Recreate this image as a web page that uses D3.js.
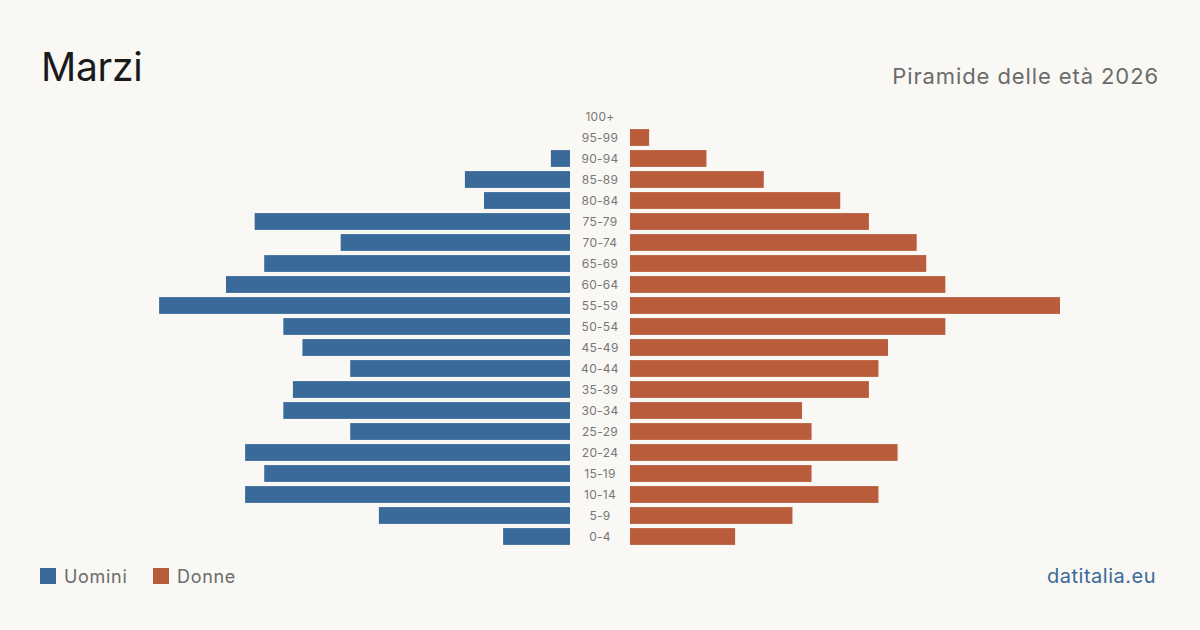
<!DOCTYPE html>
<html><head><meta charset="utf-8">
<script src="https://cdn.jsdelivr.net/npm/d3@7"></script>
<style>
html,body{margin:0;padding:0;background:#f9f8f4;}
svg{display:block;font-family:Inter,"Noto Sans",sans-serif;}
</style></head>
<body><svg id="c" width="1200" height="630"></svg>
<script>
const ageGroups = ["100+","95-99","90-94","85-89","80-84","75-79","70-74","65-69","60-64","55-59","50-54","45-49","40-44","35-39","30-34","25-29","20-24","15-19","10-14","5-9","0-4"];
const men   = [0,0,2,11,9,33,24,32,36,43,30,28,23,29,30,23,34,32,34,20,7];
const women = [0,2,8,14,22,25,30,31,33,45,33,27,26,25,18,19,28,19,26,17,11];
const seriesNames = ["Uomini","Donne"];
const colors = ["#3a6a9a","#b85c3c"];

const svg = d3.select("#c");
svg.append("rect").attr("width",1200).attr("height",630).attr("fill","#f9f8f4");

const maxV = d3.max([...men,...women]);
const xL = d3.scaleLinear().domain([0,maxV]).range([570,140]);
const xR = d3.scaleLinear().domain([0,maxV]).range([630,1060]);
const y = d3.scaleBand().domain(ageGroups).range([106,547]).paddingInner(0.2).paddingOuter(0.1);

svg.append("g").selectAll("rect").data(ageGroups).join("rect")
  .attr("x",(d,i)=>xL(men[i])).attr("width",(d,i)=>xL(0)-xL(men[i]))
  .attr("y",d=>y(d)).attr("height",y.bandwidth()).attr("fill",colors[0]);
svg.append("g").selectAll("rect").data(ageGroups).join("rect")
  .attr("x",xR(0)).attr("width",(d,i)=>xR(women[i])-xR(0))
  .attr("y",d=>y(d)).attr("height",y.bandwidth()).attr("fill",colors[1]);

const yAxis = d3.axisLeft(y).tickSize(0).tickPadding(0);
const ag = svg.append("g").attr("transform","translate(600,1)").call(yAxis);
ag.select(".domain").remove();
ag.selectAll("text").attr("text-anchor","middle").attr("x",0)
  .attr("font-family","Inter,'Noto Sans',sans-serif").attr("font-size",12).attr("fill","#777")
  .attr("letter-spacing",0.3);

svg.append("text").attr("x",41).attr("y",81).text("Marzi")
  .attr("font-size",39).attr("fill","#1a1a1a").attr("letter-spacing",-0.3);
svg.append("text").attr("x",1159).attr("y",84).attr("text-anchor","end").text("Piramide delle età 2026")
  .attr("font-size",22).attr("fill","#6b6b6b").attr("letter-spacing",0.9);

const lg = svg.append("g");
seriesNames.forEach((n,i)=>{
  const x0 = i===0?40:153;
  lg.append("rect").attr("x",x0).attr("y",568).attr("width",16).attr("height",16).attr("fill",colors[i]);
  lg.append("text").attr("x",x0+24).attr("y",583).text(n).attr("font-size",18).attr("fill","#6b6b6b")
    .attr("letter-spacing",0.7);
});
svg.append("text").attr("x",1156).attr("y",583).attr("text-anchor","end").text("datitalia.eu")
  .attr("font-size",20).attr("fill","#3a6a9a").attr("letter-spacing",0.5);
</script></body></html>
